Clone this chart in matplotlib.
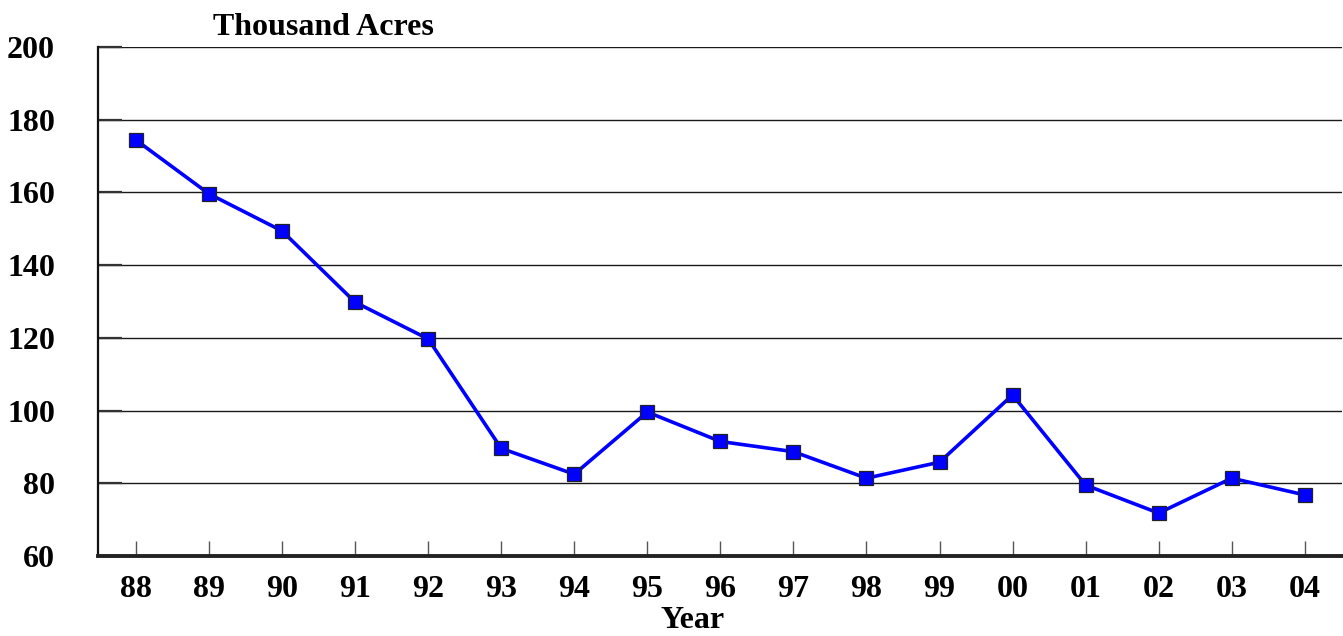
import matplotlib
matplotlib.use("Agg")
import matplotlib.pyplot as plt
import numpy as np

years = ["88", "89", "90", "91", "92", "93", "94", "95", "96", "97", "98", "99",
         "00", "01", "02", "03", "04"]
acres = [174.4, 159.6, 149.4, 129.8, 119.7, 89.6, 82.5, 99.6, 91.5, 88.7, 81.4,
         85.8, 104.3, 79.5, 71.8, 81.4, 76.8]
yticks = [60, 80, 100, 120, 140, 160, 180, 200]

plt.rcParams["font.family"] = ["Liberation Serif", "DejaVu Serif"]
plt.rcParams["font.weight"] = "bold"

fig = plt.figure(figsize=(13.43, 6.36), dpi=100)
ax = fig.add_axes([98 / 1343, 1 - 556 / 636, 1244 / 1343, (556 - 47) / 636])

x = np.arange(len(years))
ax.plot(x, acres, color="#0000ff", lw=2.6, marker="s", markersize=10,
        markerfacecolor="#0000ff", markeredgecolor="#222222", markeredgewidth=0.9,
        zorder=3)

ax.set_xlim(-0.52, 16.51)
ax.set_ylim(60, 200)
ax.set_yticks(yticks)
ax.set_xticks(x)
ax.set_xticklabels(years)

# horizontal grid
for v in yticks[1:]:
    ax.axhline(v, color="#1a1a1a", lw=1.0, zorder=1)

ax.spines["right"].set_visible(False)
ax.spines["top"].set_visible(False)
ax.spines["left"].set_linewidth(1.6)
ax.spines["left"].set_color("#111111")
ax.spines["bottom"].set_linewidth(2.8)
ax.spines["bottom"].set_color("#222222")

ax.tick_params(axis="x", direction="in", length=11, width=1.0, color="#555555",
               pad=14, labelsize=23)
ax.tick_params(axis="y", direction="in", length=17, width=1.6, color="#333333",
               pad=31, labelsize=23)
for lab in ax.get_xticklabels() + ax.get_yticklabels():
    lab.set_fontweight("bold")

fig.text(213 / 1343, 1 - 35 / 636, "Thousand Acres", fontsize=23,
         fontweight="bold", ha="left", va="baseline")
fig.text(693 / 1343, 1 - 628 / 636, "Year", fontsize=23, fontweight="bold",
         ha="center", va="baseline")

fig.savefig("out.png", dpi=100)
